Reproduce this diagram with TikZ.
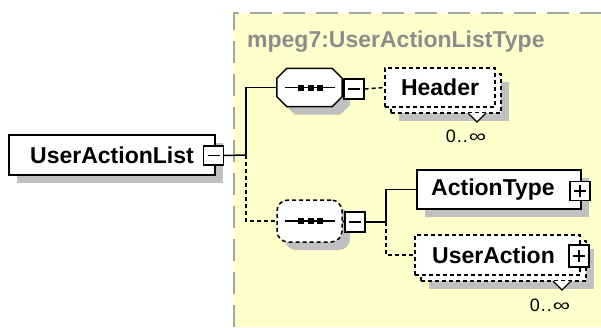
\documentclass[tikz,border=0pt]{standalone}
\usepackage{fontspec}
\setmainfont{Liberation Sans}
\usetikzlibrary{shadows}
\definecolor{bgyellow}{RGB}{255,255,204}
\definecolor{shadowgray}{RGB}{192,192,192}
\definecolor{titlegray}{RGB}{140,140,140}
\definecolor{bordergray}{RGB}{165,165,165}
\tikzset{
  dropsh/.style={drop shadow={shadow xshift=8pt, shadow yshift=-8pt, fill=shadowgray, opacity=1}},
  elem/.style={draw=black, fill=white, line width=1.5pt, inner sep=0pt,
    font=\fontsize{23}{27}\selectfont\bfseries, text=black},
  optdash/.style={dash pattern=on 4pt off 3pt},
  reqelem/.style={elem, dropsh},
  multelem/.style={elem, optdash,
    drop shadow={shadow xshift=14pt, shadow yshift=-14pt, fill=shadowgray, opacity=1},
    copy shadow={shadow xshift=6pt, shadow yshift=-6pt, draw=black, fill=white, line width=1.5pt, optdash}},
  seqline/.style={draw=black, fill=white, line width=1.5pt, dropsh},
  seqanchor/.style={inner sep=0pt, minimum width=65pt},
  pmbox/.style={draw=black, fill=white, line width=1.3pt, minimum width=20pt,
    minimum height=20pt, inner sep=0pt},
  conn/.style={line width=1.5pt, black},
  optconn/.style={conn, optdash},
  card/.style={font=\fontsize{18}{20}\selectfont, inner sep=0pt},
  vmark/.style={line width=1.2pt, black, fill=white},
  dot/.style={fill=black},
}
\newcommand{\cardtext}{0\kern1pt.\kern1pt.\kern1pt\scalebox{1.35}[1]{∞}}
\newcommand{\seqsign}[1]{%
  \draw[conn] ([xshift=-24.5pt]#1.center) -- ([xshift=25.5pt]#1.center);
  \foreach \dx in {-8.5,1,10.5} {\fill[dot] ([xshift=\dx pt-3pt,yshift=-3pt]#1.center) rectangle ([xshift=\dx pt+3pt,yshift=3pt]#1.center);}
}
\newcommand{\minussign}[1]{\draw[line width=1.3pt] ([xshift=-6pt]#1.center) -- ([xshift=6pt]#1.center);}
\newcommand{\plussign}[1]{\draw[line width=1.3pt] ([xshift=-6pt]#1.center) -- ([xshift=6pt]#1.center) ([yshift=-6pt]#1.center) -- ([yshift=6pt]#1.center);}
\begin{document}
\begin{tikzpicture}[x=1pt,y=-1pt]
\useasboundingbox (0,0) rectangle (601,327);
% type region
\fill[bgyellow] (234,13) rectangle (601,327);
\draw[bordergray, line width=2pt, dash pattern=on 22pt off 11pt] (234,327) -- (234,13) -- (601,13);
\node[anchor=west, inner sep=0pt, text=titlegray, font=\fontsize{23}{27}\selectfont\bfseries] (title) at (247,42) {mpeg7:UserActionListType};
% root
\node[reqelem, minimum width=206pt, minimum height=40pt] (root) at (112,155) {UserActionList};
\node[pmbox, minimum height=19pt] (m0) at (213.5,155.5) {};
\minussign{m0}
% sequence 1
\node[seqanchor, minimum height=38pt] (s1) at (309.5,87.5) {};
\draw[seqline] ([xshift=10pt]s1.north west) -- ([xshift=-10pt]s1.north east) -- ([yshift=-10pt]s1.north east) -- ([yshift=10pt]s1.south east) -- ([xshift=-10pt]s1.south east) -- ([xshift=10pt]s1.south west) -- ([yshift=10pt]s1.south west) -- ([yshift=-10pt]s1.north west) -- cycle;
\seqsign{s1}
\node[pmbox] (m1) at (354,89) {};
\minussign{m1}
% header
\node[multelem, minimum width=110pt, minimum height=39pt] (hd) at (440,87.5) {Header};
\draw[vmark] (468,113) -- (477,122) -- (486,113);
\node[card] (c1) at (466,136) {\cardtext};
% sequence 2
\node[seqanchor, draw=black, fill=white, line width=1.5pt, dropsh, optdash, rounded corners=11pt, minimum height=42pt] (s2) at (309.5,221) {};
\seqsign{s2}
\node[pmbox] (m2) at (355,222) {};
\minussign{m2}
% ActionType
\node[reqelem, minimum width=164pt, minimum height=39pt] (at) at (499,189.5) {\hspace*{-12pt}ActionType};
\node[pmbox, minimum height=19pt] (p1) at (580,191) {};
\plussign{p1}
% UserAction
\node[multelem, minimum width=165pt, minimum height=40pt] (ua) at (497.5,255) {\hspace*{-8pt}UserAction};
\node[pmbox, minimum height=22pt] (p2) at (579,256) {};
\plussign{p2}
\draw[vmark] (553,281) -- (562,290) -- (571,281);
\node[card] (c2) at (550,305) {\cardtext};
% connectors
\coordinate (j0) at (246,155);
\coordinate (j1) at (386,222);
\draw[conn] (m0.east) -- (j0);
\draw[conn] (j0) |- (s1.west);
\draw[optconn] (j0) |- (s2.west);
\draw[conn] (s1.east) -- (m1.west);
\draw[optconn] (m1.east) -- (hd.west);
\draw[conn] (s2.east) -- (m2.west);
\draw[conn] (m2.east) -- (j1);
\draw[conn] (j1) |- (at.west);
\draw[optconn] (j1) |- (ua.west);
\end{tikzpicture}
\end{document}
